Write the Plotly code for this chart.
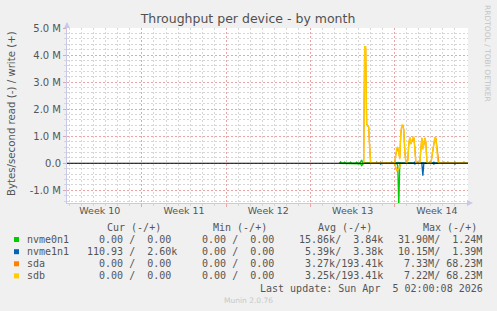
import plotly.graph_objects as go
import pandas as pd

# ---------------- data ----------------
TITLE = "Throughput per device - by month"
Y_TITLE = "Bytes/second read (-) / write (+)"
X_START = "2026-03-02 18:40"
X_END = "2026-04-05 02:00"
Y_MIN, Y_MAX = -1.47e6, 5.0e6

y_tick_vals = [-1e6, 0, 1e6, 2e6, 3e6, 4e6, 5e6]
y_tick_text = ["-1.0 M", "0.0", "1.0 M", "2.0 M", "3.0 M", "4.0 M", "5.0 M"]
week_starts = ["2026-03-09", "2026-03-16", "2026-03-23", "2026-03-30"]
week_label_pos = ["2026-03-05 12:00", "2026-03-12 12:00", "2026-03-19 12:00",
                  "2026-03-26 12:00", "2026-04-02 12:00"]
week_labels = ["Week 10", "Week 11", "Week 12", "Week 13", "Week 14"]

# values in MB/s ; read is drawn negative
nvme0n1_t = ["2026-03-25 10:00", "2026-03-25 12:00", "2026-03-25 14:00",
             "2026-03-25 18:00", "2026-03-25 20:00", "2026-03-25 22:00",
             "2026-03-26 06:00", "2026-03-26 08:00", "2026-03-26 10:00",
             "2026-03-26 18:00", "2026-03-26 20:00", "2026-03-26 22:00",
             "2026-03-27 02:00", "2026-03-27 04:00", "2026-03-27 06:00",
             "2026-03-27 08:00", "2026-03-27 10:00",
             "2026-03-30 04:00", "2026-03-30 06:00", "2026-03-30 08:00",
             "2026-03-30 10:00", "2026-03-30 12:00", "2026-04-05 02:00"]
nvme0n1_write = [0, 0.05, 0, 0, 0.04, 0, 0, 0.04, 0, 0, 0.04, 0,
                 0, 0.05, 0.12, 0.03, 0, 0, 0.03, 0.02, 0, 0, 0]
nvme0n1_read = [0, 0, 0, 0, 0, 0, 0, 0, 0, 0, 0, 0,
                0, 0.02, 0.09, 0.02, 0, 0, 0.1, 1.6, 0.05, 0, 0]

nvme1n1_t = ["2026-03-28 10:00", "2026-03-28 12:00", "2026-03-28 14:00",
             "2026-03-28 18:00", "2026-03-28 20:00", "2026-03-28 22:00",
             "2026-03-29 16:00", "2026-03-29 18:00", "2026-03-29 20:00",
             "2026-03-29 22:00", "2026-03-30 00:00", "2026-03-30 02:00",
             "2026-03-30 22:00", "2026-03-31 00:00", "2026-03-31 02:00",
             "2026-03-31 14:00", "2026-03-31 16:00", "2026-03-31 18:00",
             "2026-03-31 20:00", "2026-03-31 22:00", "2026-04-01 00:00",
             "2026-04-01 06:00", "2026-04-01 08:00", "2026-04-01 10:00",
             "2026-04-01 20:00", "2026-04-01 22:00", "2026-04-02 00:00",
             "2026-04-02 04:00", "2026-04-02 06:00", "2026-04-02 08:00",
             "2026-04-03 00:00", "2026-04-03 02:00", "2026-04-03 04:00",
             "2026-04-03 08:00", "2026-04-03 10:00", "2026-04-03 12:00",
             "2026-04-03 22:00", "2026-04-04 00:00", "2026-04-04 02:00",
             "2026-04-04 16:00", "2026-04-04 18:00", "2026-04-04 20:00",
             "2026-04-05 02:00"]
nvme1n1_write = [0, 0.04, 0, 0, 0.04, 0, 0, 0.04, 0, 0, 0.04, 0,
                 0, 0.04, 0, 0, 0.04, 0, 0, 0.04, 0, 0, 0.02, 0,
                 0, 0.04, 0, 0, 0.04, 0, 0, 0.04, 0, 0, 0.04, 0,
                 0, 0.04, 0, 0, 0.04, 0, 0]
nvme1n1_read = [0, 0, 0, 0, 0.03, 0, 0, 0, 0, 0, 0.03, 0,
                0, 0, 0, 0, 0.03, 0, 0, 0, 0, 0, 0.46, 0,
                0, 0, 0, 0, 0.03, 0, 0, 0, 0, 0, 0, 0,
                0, 0.03, 0, 0, 0, 0, 0]

sdb_t = ["2026-03-27 08:00", "2026-03-27 10:00", "2026-03-27 12:00",
         "2026-03-27 14:00", "2026-03-27 16:00", "2026-03-27 18:00",
         "2026-03-27 20:00", "2026-03-27 22:00", "2026-03-28 00:00",
         "2026-03-29 22:00",
         "2026-03-30 00:00", "2026-03-30 02:00", "2026-03-30 04:00",
         "2026-03-30 06:00", "2026-03-30 08:00", "2026-03-30 10:00",
         "2026-03-30 12:00", "2026-03-30 14:00", "2026-03-30 16:00",
         "2026-03-30 18:00", "2026-03-30 20:00", "2026-03-30 22:00",
         "2026-03-31 00:00", "2026-03-31 02:00", "2026-03-31 04:00",
         "2026-03-31 06:00", "2026-03-31 08:00", "2026-03-31 10:00",
         "2026-03-31 12:00", "2026-03-31 14:00", "2026-03-31 16:00",
         "2026-03-31 18:00", "2026-03-31 20:00",
         "2026-04-01 02:00", "2026-04-01 04:00", "2026-04-01 06:00",
         "2026-04-01 08:00", "2026-04-01 10:00", "2026-04-01 12:00",
         "2026-04-01 14:00", "2026-04-01 16:00", "2026-04-01 18:00",
         "2026-04-02 00:00", "2026-04-02 02:00", "2026-04-02 04:00",
         "2026-04-02 06:00", "2026-04-02 08:00", "2026-04-02 10:00",
         "2026-04-02 12:00", "2026-04-02 14:00", "2026-04-02 16:00",
         "2026-04-05 02:00"]
sdb_write = [0, 0, 4.31, 4.31, 1.45, 1.42, 1.36, 0.55, 0,
             0,
             0, 0.3, 0.55, 0.6, 0.35, 0.15, 1.1, 1.41, 1.41, 1.2, 0.4, 0.05,
             0, 0.1, 0.75, 0.97, 0.7, 0.85, 0.95, 0.97, 0.55, 0.02, 0,
             0, 0.55, 0.95, 0.5, 0.7, 0.95, 0.75, 0.05, 0,
             0, 0.25, 0.55, 0.85, 0.97, 0.9, 0.55, 0.05, 0,
             0]
sdb_read = [0, 0, 0, 0, 0, 0, 0, 0, 0,
            0,
            0, 0.15, 0.26, 0.25, 0.2, 0.1, 0, 0, 0, 0, 0, 0,
            0, 0, 0, 0, 0, 0, 0, 0, 0, 0, 0,
            0, 0, 0, 0, 0, 0, 0, 0, 0,
            0, 0, 0, 0, 0, 0, 0, 0, 0,
            0]
sda_t = sdb_t
sda_write = [0, 0, 4.25, 4.28, 1.43, 1.40, 1.34, 0.6, 0,
             0,
             0, 0.32, 0.5, 0.58, 0.4, 0.2, 1.05, 1.39, 1.4, 1.25, 0.45, 0.08,
             0, 0.12, 0.7, 0.95, 0.72, 0.82, 0.93, 0.95, 0.6, 0.04, 0,
             0, 0.5, 0.93, 0.55, 0.68, 0.93, 0.78, 0.08, 0,
             0, 0.28, 0.5, 0.83, 0.95, 0.92, 0.6, 0.08, 0,
             0]
sda_read = [0, 0, 0, 0, 0, 0, 0, 0, 0,
            0,
            0, 0.18, 0.27, 0.24, 0.22, 0.12, 0, 0, 0, 0, 0, 0,
            0, 0, 0, 0, 0, 0, 0, 0, 0, 0, 0,
            0, 0, 0, 0, 0, 0, 0, 0, 0,
            0, 0, 0, 0, 0, 0, 0, 0, 0,
            0]

legend_names = ["nvme0n1", "nvme1n1", "sda", "sdb"]
legend_colors = ["#00cc00", "#0066b3", "#ff8000", "#ffcc00"]
col_headers = ["Cur (-/+)", "Min (-/+)", "Avg (-/+)", "Max (-/+)"]
cur_col = ["  0.00 /  0.00 ", "110.93 /  2.60k", "  0.00 /  0.00 ", "  0.00 /  0.00 "]
min_col = ["  0.00 /  0.00 ", "  0.00 /  0.00 ", "  0.00 /  0.00 ", "  0.00 /  0.00 "]
avg_col = [" 15.86k/  3.84k", "  5.39k/  3.38k", "  3.27k/193.41k", "  3.25k/193.41k"]
max_col = [" 31.90M/  1.24M", " 10.15M/  1.39M", "  7.33M/ 68.23M", "  7.22M/ 68.23M"]
last_update = "Last update: Sun Apr  5 02:00:08 2026"
version_text = "Munin 2.0.76"
side_text = "RRDTOOL / TOBI OETIKER"

# ---------------- layout geometry (pixels) ----------------
W, H = 497, 311
PL, PR, PT, PB = 67, 468, 28, 203


def px(x):
    return (x - PL) / (PR - PL)


def py(y):
    return (PB - y) / (PB - PT)


def nb(s):
    return s.replace(" ", "\u00a0")


# minor grid positions (daily / every 200k), skipping the major lines
day_grid = [d.strftime("%Y-%m-%d") for d in pd.date_range("2026-03-03", "2026-04-05", freq="D")
            if d.strftime("%Y-%m-%d") not in week_starts]
y_minor = [k * 200000 for k in range(-7, 26) if k % 5 != 0]

fig = go.Figure()

series = [
    ("nvme0n1", nvme0n1_t, nvme0n1_write, nvme0n1_read, legend_colors[0]),
    ("nvme1n1", nvme1n1_t, nvme1n1_write, nvme1n1_read, legend_colors[1]),
    ("sda", sda_t, sda_write, sda_read, legend_colors[2]),
    ("sdb", sdb_t, sdb_write, sdb_read, legend_colors[3]),
]
for name, t, w, r, c in series:
    fig.add_trace(go.Scatter(x=t, y=[-v * 1e6 for v in r], mode="lines",
                             line=dict(color=c, width=1.3), showlegend=False,
                             hoverinfo="skip", name=name + " read"))
for name, t, w, r, c in series:
    fig.add_trace(go.Scatter(x=t, y=[v * 1e6 for v in w], mode="lines",
                             line=dict(color=c, width=1.3), showlegend=False,
                             hoverinfo="skip", name=name + " write"))

# zero rule on the overlaying axis (drawn on top)
fig.add_trace(go.Scatter(x=[X_START, X_END], y=[0, 0], mode="lines",
                         line=dict(color="#000000", width=1.2),
                         xaxis="x2", yaxis="y", showlegend=False, hoverinfo="skip"))

MAJ = "#eba4a4"
MIN = "#d6d6d6"
AXL = "#c8c8ec"
TXT = "#555555"

fig.update_layout(
    width=W, height=H,
    margin=dict(l=PL, r=W - PR, t=PT, b=H - PB, pad=0),
    paper_bgcolor="#f0f0f0", plot_bgcolor="#ffffff",
    font=dict(family="DejaVu Sans", color=TXT, size=10),
    showlegend=False,
    title=dict(text=TITLE, x=248 / W, xref="container", xanchor="center",
               y=1 - 19 / H, yref="container", yanchor="middle",
               font=dict(family="DejaVu Sans", size=12.5, color="#505050")),
    xaxis=dict(type="date", range=[X_START, X_END],
               tickmode="array", tickvals=week_starts,
               ticktext=["" for _ in week_starts],
               showgrid=True, gridcolor=MAJ, griddash="2px,2px", gridwidth=1,
               ticks="outside", ticklen=3, tickcolor=MAJ,
               showline=True, linecolor=AXL, linewidth=1,
               zeroline=False,
               minor=dict(tickmode="array", tickvals=day_grid,
                          showgrid=True, gridcolor=MIN, griddash="2px,2px", gridwidth=1,
                          ticks="outside", ticklen=2, tickcolor=MIN)),
    xaxis2=dict(type="date", range=[X_START, X_END], overlaying="x", side="bottom",
                tickmode="array", tickvals=week_label_pos, ticktext=week_labels,
                showgrid=False, showline=False, zeroline=False, ticks="",
                tickfont=dict(size=9.5, color=TXT)),
    yaxis=dict(range=[Y_MIN, Y_MAX], tickmode="array",
               tickvals=y_tick_vals, ticktext=y_tick_text,
               showgrid=True, gridcolor=MAJ, griddash="2px,2px", gridwidth=1,
               ticks="outside", ticklen=3, tickcolor=MAJ,
               showline=True, linecolor=AXL, linewidth=1,
               zeroline=False, tickfont=dict(size=10, color=TXT),
               minor=dict(tickmode="array", tickvals=y_minor,
                          showgrid=True, gridcolor=MIN, griddash="2px,2px", gridwidth=1,
                          ticks="outside", ticklen=2, tickcolor=MIN)),
)

ann = []
ann.append(dict(text=Y_TITLE, x=px(11), y=py(114), xref="paper", yref="paper",
                textangle=-90, showarrow=False, xanchor="center", yanchor="middle",
                font=dict(family="DejaVu Sans", size=10.2, color=TXT)))
ann.append(dict(text=side_text, x=px(488), y=py(53), xref="paper", yref="paper",
                textangle=90, showarrow=False, xanchor="center", yanchor="middle",
                font=dict(family="DejaVu Sans", size=7.5, color="#c4c4c4")))
ann.append(dict(text="", x=px(67), y=py(22), xref="paper", yref="paper",
                showarrow=True, ax=0, ay=7, arrowhead=2, arrowsize=1, arrowwidth=1.2,
                arrowcolor=AXL))
ann.append(dict(text="", x=px(473), y=py(203), xref="paper", yref="paper",
                showarrow=True, ax=-7, ay=0, arrowhead=2, arrowsize=1, arrowwidth=1.2,
                arrowcolor=AXL))

MONO = "DejaVu Sans Mono"
header_x = [107, 212.5, 318, 423]
field_x = [87, 190, 292.5, 392]
row_y = [239.5, 251.7, 263.8, 275.9]
header_y = 227.3


def mono(text, x, y, anchor="left"):
    return dict(text=nb(text), x=px(x), y=py(y), xref="paper", yref="paper",
                showarrow=False, xanchor=anchor, yanchor="middle",
                borderpad=0, borderwidth=0,
                font=dict(family=MONO, size=10, color=TXT))


for hx, h in zip(header_x, col_headers):
    ann.append(mono(h, hx, header_y))

shapes = []
for i, name in enumerate(legend_names):
    yy = row_y[i]
    ann.append(mono(name, 26.5, yy))
    for fx, col in zip(field_x, [cur_col, min_col, avg_col, max_col]):
        ann.append(mono(col[i], fx, yy))
    shapes.append(dict(type="rect", xref="paper", yref="paper",
                       x0=px(14), x1=px(19), y0=py(yy + 2.5), y1=py(yy - 2.5),
                       fillcolor=legend_colors[i], line=dict(width=0)))

ann.append(mono(last_update, 483, 288, anchor="right"))
ann.append(dict(text=version_text, x=px(248), y=py(300), xref="paper", yref="paper",
                showarrow=False, xanchor="center", yanchor="middle",
                font=dict(family="DejaVu Sans", size=7.5, color="#c8c8c8")))

fig.update_layout(annotations=ann, shapes=shapes)
fig.write_html("out.html")
